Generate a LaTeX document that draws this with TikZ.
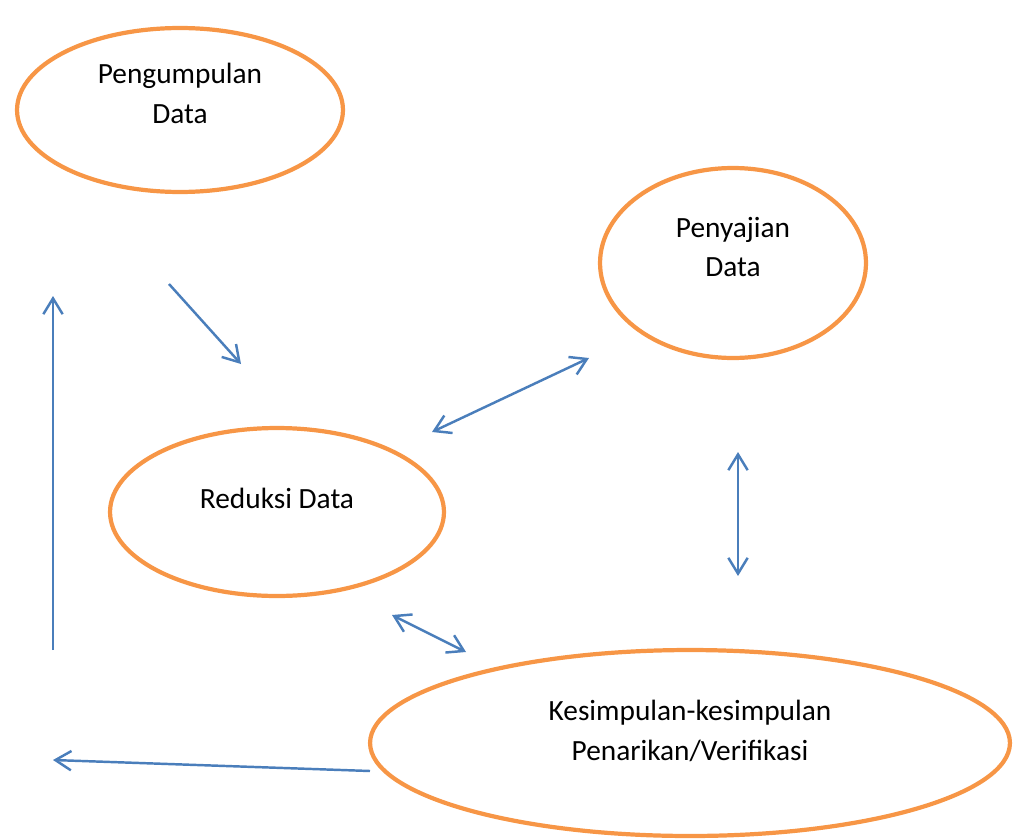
\documentclass[tikz,border=0pt]{standalone}
\usepackage{fontspec}
\setmainfont{Carlito}
\usetikzlibrary{arrows.meta,shapes.geometric}
\definecolor{ornge}{HTML}{F79646}
\definecolor{blu}{HTML}{4A7EBB}
\tikzset{
  ell/.style={draw=ornge, line width=2.4pt, ellipse, inner sep=0pt, outer sep=0pt},
  lbl/.style={align=center, inner sep=0pt, font=\fontsize{16.7}{22.7}\selectfont},
  conn/.style={draw=blu, line width=1.4pt, -{Straight Barb[length=9pt,width=11pt,line width=1.4pt]}},
  dconn/.style={draw=blu, line width=1.4pt, {Straight Barb[length=9pt,width=11pt,line width=1.4pt]}-{Straight Barb[length=9pt,width=11pt,line width=1.4pt]}}
}
\begin{document}
\begin{tikzpicture}[x=0.02cm,y=-0.02cm]
\useasboundingbox (0,0) rectangle (1013,838);
\node[ell, minimum width=6.52cm, minimum height=3.28cm] (pe) at (180,110) {};
\node[lbl] (pd) at (180,93) {Pengumpulan\\Data};
\node[ell, minimum width=5.32cm, minimum height=3.8cm] (se) at (733,263) {};
\node[lbl] (sd) at (733,247) {Penyajian\\Data};
\node[ell, minimum width=6.68cm, minimum height=3.36cm] (re) at (277,512) {};
\node[lbl] (rd) at (277,498) {Reduksi Data};
\node[ell, minimum width=12.8cm, minimum height=3.72cm] (ke) at (690,743) {};
\node[lbl] (ks) at (690,731) {Kesimpulan-kesimpulan\\Penarikan/Verifikasi};
\coordinate (a1) at (169,284); \coordinate (a2) at (241,364);
\coordinate (b1) at (432,432); \coordinate (b2) at (589,358);
\coordinate (c1) at (738,452); \coordinate (c2) at (738,576);
\coordinate (d1) at (392,615); \coordinate (d2) at (466,652);
\coordinate (e1) at (53,650); \coordinate (e2) at (53,296);
\coordinate (f1) at (370,771); \coordinate (f2) at (53,760);
\draw[conn] (a1) -- (a2);
\draw[dconn] (b1) -- (b2);
\draw[dconn] (c1) -- (c2);
\draw[dconn] (d1) -- (d2);
\draw[conn] (e1) -- (e2);
\draw[conn] (f1) -- (f2);
\end{tikzpicture}
\end{document}
